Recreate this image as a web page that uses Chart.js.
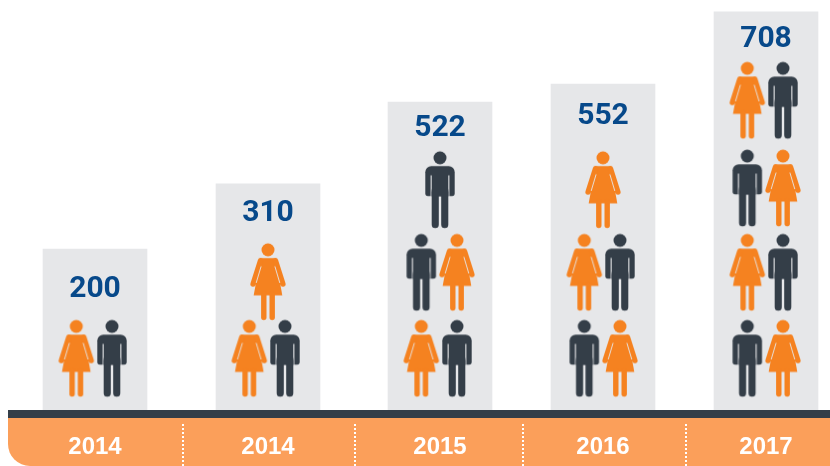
<!DOCTYPE html>
<html lang="en">
<head>
    <meta charset="UTF-8">
    <title>Totals by year</title>
    <style>
        html, body { margin: 0; padding: 0; background: #fff; }
        canvas { display: block; }
    </style>
</head>
<body>
    <canvas id="chart" width="830" height="466"></canvas>

    <script src="https://cdn.jsdelivr.net/npm/chart.js@4/dist/chart.umd.min.js"></script>
    <script>
        // Values
        const categories = ['2014', '2014', '2015', '2016', '2017'];
        const totals = [200, 310, 522, 552, 708];

        // Column heights, total label heights and figure levels are in "figure rows" (the y axis unit)
        const columnHeights = [1.87, 2.63, 3.58, 3.79, 4.63];
        const totalLevels = [1.4, 2.29, 3.27, 3.41, 4.31];

        // One string per row, bottom row first. F = woman, M = man
        const figureRows = [
            ['FM'],
            ['FM', 'F'],
            ['FM', 'MF', 'M'],
            ['MF', 'FM', 'F'],
            ['MF', 'FM', 'MF', 'FM']
        ];
        const figureLevels = [
            [0.6],
            [0.6, 1.49],
            [0.6, 1.6, 2.56],
            [0.6, 1.6, 2.56],
            [0.6, 1.6, 2.58, 3.6]
        ];

        // The columns are not evenly spaced in the original, so the x axis has its own band centres
        const bandCentres = [95, 268, 440, 603, 766];
        const bandWidth = 170;

        class BandScale extends Chart.CategoryScale {
            static id = 'band';
            static defaults = Chart.CategoryScale.defaults;

            getPixelForValue(value) {
                const i = Math.round(value);
                return bandCentres[i] + (value - i) * bandWidth;
            }
        }
        Chart.register(BandScale);

        const orange = '#f58220';
        const slate = '#343e48';

        function figureCanvas(paint) {
            const c = document.createElement('canvas');
            c.width = 40;
            c.height = 80;
            const g = c.getContext('2d');
            g.translate(20, 1.5);
            g.lineCap = 'round';
            paint(g);
            return c;
        }

        const womanIcon = figureCanvas((g) => {
            g.fillStyle = orange;
            g.strokeStyle = orange;
            g.beginPath();
            g.arc(0, 6.5, 6.5, 0, Math.PI * 2);
            g.fill();

            // dress
            g.beginPath();
            g.moveTo(-7.5, 14.7);
            g.lineTo(7.5, 14.7);
            g.lineTo(14.3, 52);
            g.lineTo(-14.3, 52);
            g.closePath();
            g.fill();

            // arms
            g.lineWidth = 5.6;
            [-1, 1].forEach((s) => {
                g.beginPath();
                g.moveTo(s * 7.4, 17.4);
                g.lineTo(s * 14.8, 40.5);
                g.stroke();
            });

            // thin gap between arm and dress
            g.globalCompositeOperation = 'destination-out';
            g.lineWidth = 0.9;
            g.lineCap = 'butt';
            [-1, 1].forEach((s) => {
                g.beginPath();
                g.moveTo(s * 6.9, 23);
                g.lineTo(s * 11.8, 39.5);
                g.stroke();
            });
            g.globalCompositeOperation = 'source-over';

            // legs
            g.lineCap = 'round';
            g.lineWidth = 5.4;
            [-1, 1].forEach((s) => {
                g.beginPath();
                g.moveTo(s * 4.2, 51);
                g.lineTo(s * 4.2, 74);
                g.stroke();
            });
        });

        const manIcon = figureCanvas((g) => {
            g.fillStyle = slate;
            g.beginPath();
            g.arc(0, 6.5, 6.5, 0, Math.PI * 2);
            g.fill();

            // shoulders and arms
            g.beginPath();
            g.roundRect(-14.7, 14.7, 29.4, 30, [6, 6, 2.6, 2.6]);
            g.fill();

            g.globalCompositeOperation = 'destination-out';
            g.fillRect(-9.4, 24, 1.1, 22);
            g.fillRect(8.3, 24, 1.1, 22);
            g.globalCompositeOperation = 'source-over';

            // legs
            g.beginPath();
            g.roundRect(-8.3, 40, 7.1, 36.7, [0, 0, 3.5, 3.5]);
            g.roundRect(1.2, 40, 7.1, 36.7, [0, 0, 3.5, 3.5]);
            g.fill();
            g.fillRect(-8.3, 38, 16.6, 7);
        });

        // Points for the two figure datasets, built from the rows above
        const womanPoints = [];
        const manPoints = [];
        figureRows.forEach((rows, col) => {
            rows.forEach((row, r) => {
                row.split('').forEach((kind, k) => {
                    let side = 0;
                    if (row.length === 2) {
                        side = k === 0 ? -0.11 : 0.1;
                    }
                    const point = { x: col + side, y: figureLevels[col][r] };
                    (kind === 'F' ? womanPoints : manPoints).push(point);
                });
            });
        });

        const totalPoints = totals.map((t, i) => ({ x: i, y: totalLevels[i] }));

        const footerPlugin = {
            id: 'footer',
            beforeDraw(chart) {
                const { ctx, chartArea, width, height } = chart;
                const left = chartArea.left;
                const stripBottom = chartArea.bottom + 8;

                ctx.save();
                ctx.fillStyle = '#fb9f5a';
                ctx.beginPath();
                ctx.roundRect(left, stripBottom - 1, width - left, height - stripBottom + 1, [0, 0, 0, 22]);
                ctx.fill();

                ctx.fillStyle = slate;
                ctx.fillRect(left, chartArea.bottom, width - left, 8);

                // dotted dividers sit between the bands
                ctx.strokeStyle = '#ffffff';
                ctx.lineWidth = 2;
                ctx.setLineDash([2, 2]);
                for (let i = 0; i < bandCentres.length - 1; i++) {
                    const x = Math.round((bandCentres[i] + bandCentres[i + 1]) / 2) + 1;
                    ctx.beginPath();
                    ctx.moveTo(x, stripBottom + 6);
                    ctx.lineTo(x, height);
                    ctx.stroke();
                }
                ctx.restore();
            }
        };

        const totalsPlugin = {
            id: 'totalLabels',
            afterDatasetsDraw(chart) {
                const { ctx } = chart;
                const meta = chart.getDatasetMeta(3);
                ctx.save();
                ctx.font = 'bold 30px Roboto';
                ctx.fillStyle = '#07498a';
                ctx.textAlign = 'center';
                ctx.textBaseline = 'middle';
                meta.data.forEach((pt, i) => {
                    ctx.fillText(String(totals[i]), pt.x, pt.y);
                });
                ctx.restore();
            }
        };

        new Chart(document.getElementById('chart'), {
            data: {
                labels: categories,
                datasets: [
                    {
                        type: 'bar',
                        data: columnHeights,
                        backgroundColor: '#e6e7e9',
                        barThickness: 104,
                        order: 3
                    },
                    {
                        type: 'scatter',
                        data: womanPoints,
                        parsing: false,
                        pointStyle: womanIcon,
                        pointRadius: 1,
                        order: 1
                    },
                    {
                        type: 'scatter',
                        data: manPoints,
                        parsing: false,
                        pointStyle: manIcon,
                        pointRadius: 1,
                        order: 1
                    },
                    {
                        type: 'scatter',
                        data: totalPoints,
                        parsing: false,
                        pointRadius: 0,
                        order: 1
                    }
                ]
            },
            options: {
                responsive: false,
                animation: false,
                layout: { padding: { left: 8 }, autoPadding: false },
                plugins: {
                    legend: { display: false },
                    tooltip: { enabled: false }
                },
                scales: {
                    x: {
                        type: 'band',
                        grid: { display: false },
                        border: { display: false },
                        afterFit(scale) {
                            scale.height = 56;
                        },
                        ticks: {
                            color: '#ffffff',
                            font: { family: 'Liberation Sans', size: 24, weight: 'bold' },
                            padding: 15,
                            autoSkip: false,
                            maxRotation: 0
                        }
                    },
                    y: {
                        display: false,
                        min: 0,
                        max: 4.767
                    }
                }
            },
            plugins: [footerPlugin, totalsPlugin]
        });
    </script>
</body>
</html>
